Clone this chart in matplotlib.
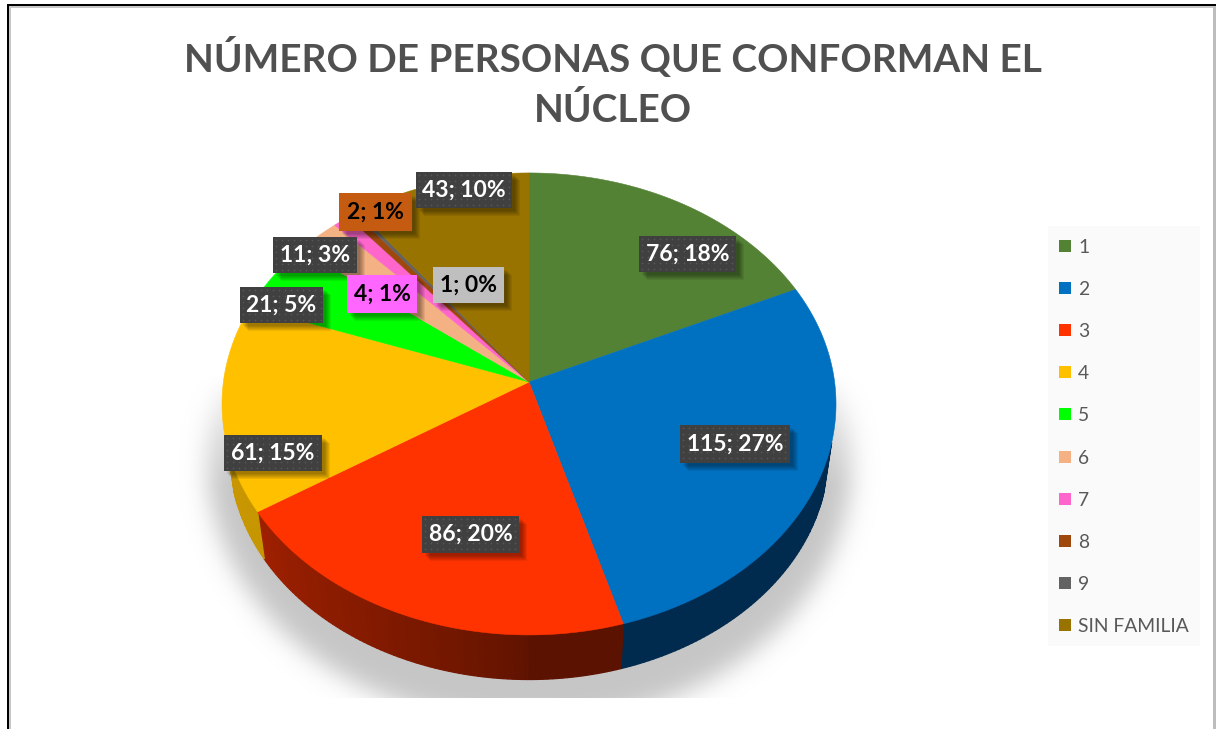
import numpy as np
import matplotlib
matplotlib.use("Agg")
import matplotlib.pyplot as plt
from matplotlib.patches import Rectangle, Polygon
from matplotlib.colors import to_rgb

categories = ["1", "2", "3", "4", "5", "6", "7", "8", "9", "SIN FAMILIA"]
values = [76, 115, 86, 61, 21, 11, 4, 2, 1, 43]
percent_labels = ["18%", "27%", "20%", "15%", "5%", "3%", "1%", "1%", "0%", "10%"]
title_lines = "NÚMERO DE PERSONAS QUE CONFORMAN EL\nNÚCLEO"

slice_colors = ["#548235", "#0070C0", "#FF3300", "#FFC000", "#00FF00",
                "#F4B183", "#FF66CC", "#9E480E", "#636363", "#997300"]
# label boxes (x0, x1, y0, y1) in pixels
label_boxes = [(639, 736, 236, 272), (680, 790, 425, 463), (422, 519, 516, 553),
               (224, 322, 435, 471), (240, 323, 287, 323), (273, 357, 237, 273),
               (347, 417, 275, 313), (339, 412, 193, 231), (433, 504, 267, 303),
               (416, 512, 172, 208)]
label_face = ["#404040", "#404040", "#404040", "#404040", "#404040", "#404040",
              "#FF66FF", "#C55A11", "#BFBFBF", "#404040"]
label_text = ["white", "white", "white", "white", "white", "white",
              "black", "black", "black", "white"]

W, H = 1216, 729
FONT = "Lato"
fig = plt.figure(figsize=(W / 100, H / 100), dpi=100, facecolor="white")
ax = fig.add_axes([0, 0, 1, 1])
ax.set_xlim(0, W)
ax.set_ylim(H, 0)
ax.axis("off")

CX = 529
def top_rim(t):
    u, v = np.sin(t), np.cos(t)
    d = 1 + 0.095 * v
    return CX + 305.6 * u / d, 382 + -228.9 * v / d

def low_rim(t):
    u, v = np.sin(t), np.cos(t)
    d = 1 + 0.095 * v
    return CX + 298 * u / d, 432 + -224 * v / d

def blur(a, sigma):
    r = int(sigma * 3)
    kern = np.exp(-0.5 * (np.arange(-r, r + 1) / sigma) ** 2)
    kern /= kern.sum()
    a = np.apply_along_axis(lambda row: np.convolve(row, kern, mode="same"), 1, a)
    return np.apply_along_axis(lambda col: np.convolve(col, kern, mode="same"), 0, a)

# soft shadow
yy, xx = np.mgrid[0:H, 0:W].astype(float)
mask = (((xx - CX) / 322) ** 2 + ((yy - 462) / 262) ** 2 < 1).astype(float)
mask = blur(mask, 12.0)
mask *= np.clip((yy - 375) / 110, 0, 1) ** 0.7
mask[yy > 697] = 0
rgba = np.zeros((H, W, 4))
rgba[..., :3] = 0.78
rgba[..., 3] = mask
ax.imshow(rgba, extent=(0, W, H, 0), aspect="auto", zorder=1, interpolation="bilinear")
ax.set_xlim(0, W)
ax.set_ylim(H, 0)

fracs = np.array(values, dtype=float) / sum(values)
edges = np.concatenate([[0], np.cumsum(fracs)]) * 2 * np.pi

# side wall (only the part facing the viewer)
vis0, vis1 = np.radians(105), np.radians(255)
for i, col in enumerate(slice_colors):
    a0, a1 = max(edges[i], vis0), min(edges[i + 1], vis1)
    if a1 <= a0:
        continue
    n = max(2, int((a1 - a0) / 0.015))
    ts = np.linspace(a0, a1, n + 1)
    base = np.array(to_rgb(col))
    for s, e in zip(ts[:-1], ts[1:]):
        mid = (s + e) / 2
        if mid > np.pi:
            shade = 0.37 + 0.36 * min(1, (mid - np.pi) / (np.pi / 2)) ** 0.8
            if col == "#FFC000":
                shade = 0.78
        else:
            shade = 0.36
        if col == "#0070C0":
            c = np.array([0.0, 0.17, 0.31])
        else:
            c = base * shade
        xa, ya = top_rim(np.array([s, e]))
        xb, yb = low_rim(np.array([e, s]))
        ax.add_patch(Polygon(np.c_[np.r_[xa, xb], np.r_[ya, yb]], closed=True,
                             facecolor=c, edgecolor=c, lw=0.9, zorder=2))

# top surface
for i, col in enumerate(slice_colors):
    ts = np.linspace(edges[i], edges[i + 1], max(3, int((edges[i + 1] - edges[i]) / 0.01)))
    x, y = top_rim(ts)
    ax.fill(np.r_[CX, x], np.r_[382, y], facecolor=col, edgecolor=col, lw=0.4, zorder=3)

# data labels
for i, (box, face, tc) in enumerate(zip(label_boxes, label_face, label_text)):
    x0, x1, y0, y1 = box
    for off in (8, 7, 6, 5, 4, 3):
        ax.add_patch(Rectangle((x0 + off, y0 + off), x1 - x0, y1 - y0, facecolor="black",
                               alpha=0.07, lw=0, zorder=4 + i * 0.01))
    dark = face == "#404040"
    ax.add_patch(Rectangle((x0, y0), x1 - x0, y1 - y0, facecolor=face, lw=0, zorder=4.5 + i * 0.01))
    if dark:
        px = np.arange(x0 + 3, x1 - 1, 6)
        py = np.arange(y0 + 3, y1 - 1, 6)
        gx, gy = np.meshgrid(px, py)
        ax.scatter(gx.ravel(), gy.ravel(), s=1.5, c="#575757", lw=0, zorder=4.51 + i * 0.01)
    ax.text((x0 + x1) / 2, (y0 + y1) / 2, f"{values[i]}; {percent_labels[i]}", color=tc,
            fontsize=16.5, fontweight="bold", family=FONT, ha="center", va="center",
            zorder=4.6 + i * 0.01)

# title
lines = title_lines.split("\n")
for line, y in zip(lines, (57, 110)):
    ax.text(613, y, line, fontsize=27.9, fontweight="bold", family=FONT, color="#505050",
            ha="center", va="center", zorder=5)

# legend
ax.add_patch(Rectangle((1048, 226), 152, 420, facecolor="#FAFAFA", lw=0, zorder=1))
leg_y = [246, 288, 330, 372, 414, 457, 499, 541, 583, 625]
for name, col, y in zip(categories, slice_colors, leg_y):
    ax.add_patch(Rectangle((1059, y - 6), 12, 12, facecolor=col, lw=0, zorder=2))
    ax.text(1078, y + 1, name, fontsize=13.9, family=FONT, color="#595959", ha="left", va="center", zorder=2)

# frame
ax.add_patch(Rectangle((9, 6), 2, H, facecolor="#C8C8C8", lw=0, zorder=6))
ax.add_patch(Rectangle((9, 6), W, 2, facecolor="#C8C8C8", lw=0, zorder=6))
ax.add_patch(Rectangle((1213, 6), 3, H, facecolor="#BDBDBD", lw=0, zorder=6))
ax.add_patch(Rectangle((7, 4), 2, H, facecolor="black", lw=0, zorder=7))
ax.add_patch(Rectangle((7, 4), W, 2, facecolor="black", lw=0, zorder=7))

fig.savefig("out.png", dpi=100, facecolor="white")
